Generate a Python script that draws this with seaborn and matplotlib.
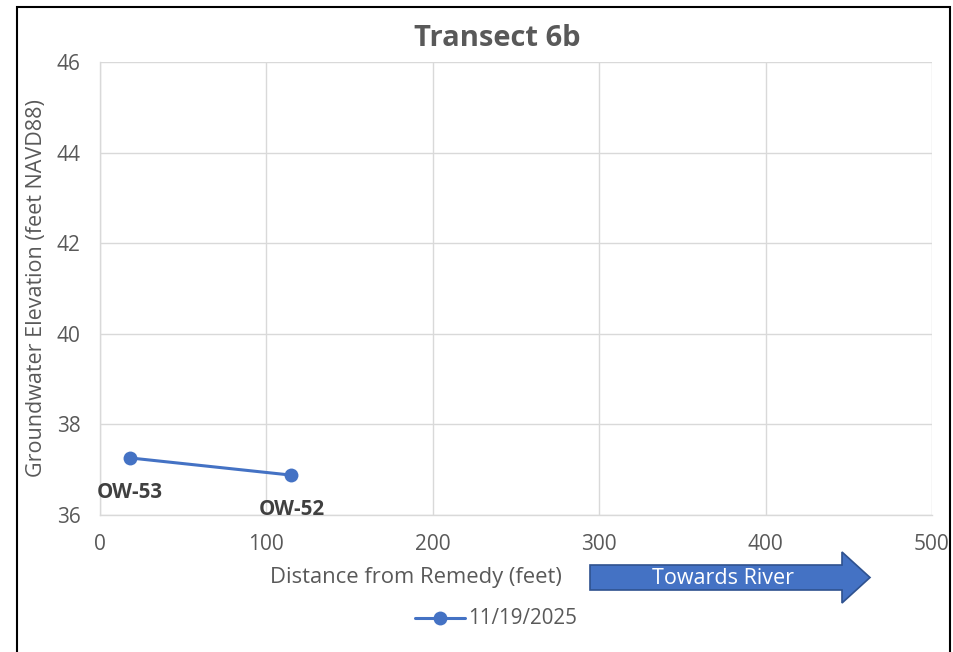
import matplotlib
matplotlib.use("Agg")
import matplotlib.pyplot as plt
import seaborn as sns
import pandas as pd
from matplotlib.patches import FancyArrow, Rectangle

# data
distance = [18, 115]
elevation = [37.26, 36.88]
wells = ["OW-53", "OW-52"]
series_name = "11/19/2025"

sns.set_theme(style="whitegrid")
plt.rcParams['font.family'] = ['Open Sans', 'DejaVu Sans']

df = pd.DataFrame({"dist": distance, "elev": elevation, "well": wells, "date": series_name})

W, H = 954, 652
fig = plt.figure(figsize=(W / 100, H / 100), dpi=100)
ax = fig.add_axes([100 / W, 1 - 515 / H, 832 / W, 453 / H])

blue = "#4472C4"
grey = "#595959"
sns.lineplot(data=df, x="dist", y="elev", hue="date", palette=[blue], marker="o",
             markersize=10, markeredgewidth=0, linewidth=2.2, ax=ax, legend=False)

ax.set_xlim(0, 500)
ax.set_ylim(36, 46)
ax.set_xticks(range(0, 501, 100))
ax.set_yticks(range(36, 47, 2))
ax.grid(True, color="#d9d9d9", linewidth=1)
for s in ["top", "right"]:
    ax.spines[s].set_visible(False)
for s in ["left", "bottom"]:
    ax.spines[s].set_color("#d9d9d9")
    ax.spines[s].set_linewidth(1)
ax.tick_params(axis="both", colors=grey, labelsize=15, length=0)
ax.tick_params(axis="x", pad=14)
ax.tick_params(axis="y", pad=14)
ax.set_xlabel("Distance from Remedy (feet)", fontsize=15.8, color=grey)
ax.set_ylabel("Groundwater Elevation (feet NAVD88)", fontsize=15.5, color=grey)
ax.xaxis.label.set_va("center")
ax.yaxis.label.set_va("center")
ax.xaxis.set_label_coords((416 - 100) / 832, -(578 - 515) / 453)
ax.yaxis.set_label_coords((37 - 100) / 832, 0.5)
fig.text(497 / W, 1 - 38 / H, "Transect 6b", fontsize=21, fontweight="bold", color=grey,
         ha="center", va="center")

# well labels under the points
for x, y, w in zip(distance, elevation, wells):
    ax.annotate(w, (x, y), textcoords="offset points", xytext=(0, -17), ha="center", va="top",
                fontsize=14.8, fontweight="bold", color="#404040")

# "Towards River" arrow in figure pixel space
arr = FancyArrow(590 / W, 1 - 577.5 / H, 280 / W, 0, width=25 / H, head_width=51 / H,
                 head_length=28 / W, length_includes_head=True, transform=fig.transFigure,
                 facecolor=blue, edgecolor="#2F528F", linewidth=1.2)
fig.add_artist(arr)
fig.text(723 / W, 1 - 578 / H, "Towards River", color="white", fontsize=15.5,
         ha="center", va="center")

# legend
fig.add_artist(plt.Line2D([415 / W, 465 / W], [1 - 618 / H] * 2, color=blue, linewidth=2.2,
                          transform=fig.transFigure))
fig.add_artist(plt.Line2D([440 / W], [1 - 618 / H], color=blue, marker="o", markersize=10,
                          markeredgewidth=0, transform=fig.transFigure))
fig.text(468 / W, 1 - 618 / H, series_name, color=grey, fontsize=14.8, ha="left", va="center")

# chart border
fig.add_artist(Rectangle((17 / W, -0.05), (950 - 17) / W, 1.05 - 7 / H, transform=fig.transFigure,
                         fill=False, edgecolor="black", linewidth=1.5))

fig.savefig("out.png", dpi=100)
